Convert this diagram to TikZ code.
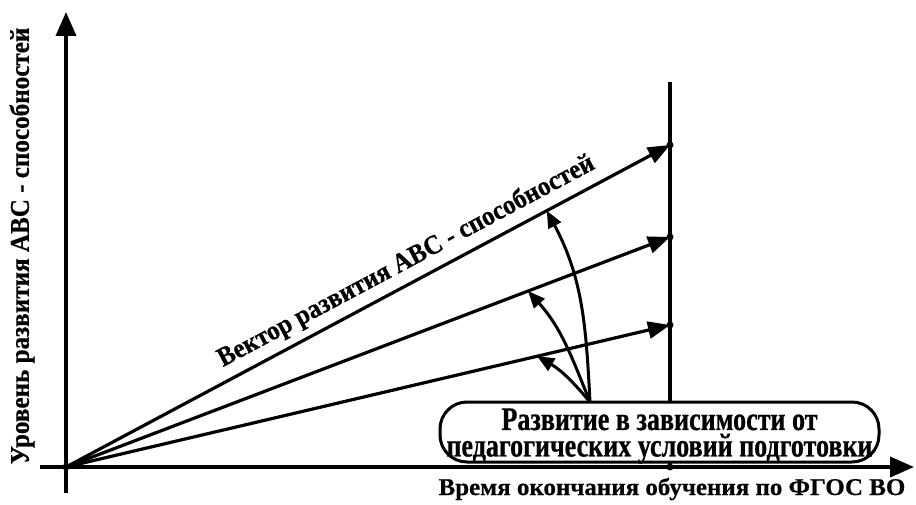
\documentclass[tikz,border=0pt]{standalone}
\usepackage{fontspec}
\setmainfont{Liberation Serif}
\newfontfamily\boxfont{Liberation Serif Bold}[FakeStretch=0.79,FakeBold=0.6]
\newfontfamily\ylabfont{Liberation Serif Bold}[FakeStretch=0.93,FakeBold=0.6]
\newfontfamily\xlabfont{Liberation Serif Bold}[FakeStretch=1.04,FakeBold=0.6]
\usetikzlibrary{arrows.meta,calc}
\begin{document}
\begin{tikzpicture}[x=1pt,y=-1pt,
  axis/.style={line width=3.6pt,-{Triangle[length=24pt,width=20pt]}},
  vec/.style={line width=3.2pt,-{Triangle[length=22pt,width=17pt]}},
  curvarrow/.style={line width=3pt,-{Triangle[length=17pt,width=14pt]}},
  lbl/.style={inner sep=0pt},
  dot/.style={circle,fill=black,inner sep=0pt,minimum size=7pt},
  rbox/.style={draw,line width=3pt,rounded corners=27pt,fill=white,minimum width=439pt,minimum height=60pt,inner sep=0pt},
  boxtext/.style={align=center,font=\boxfont\fontsize{33}{26.5}\selectfont,inner sep=0pt}]
\useasboundingbox (0,0) rectangle (916,505);
% axes
\coordinate (O) at (66,467);
\coordinate (ybot) at (66,493);
\coordinate (ytop) at (66,12);
\coordinate (xleft) at (40,467);
\coordinate (xright) at (914,467);
\draw[axis] (ybot) -- (ytop);
\draw[axis] (xleft) -- (xright);
% vertical line
\coordinate (vtop) at (670,82);
\coordinate (vbot) at (670,467);
\draw[line width=3.2pt] (vtop) -- (vbot);
% vector end points
\coordinate (t1) at (670,145);
\coordinate (t2) at (670,237);
\coordinate (t3) at (670,325);
\draw[vec] (O) -- (t1) node[lbl,font=\ylabfont\fontsize{27}{27}\selectfont,pos=0.58,sloped,above=7pt] {Вектор развития ABC - способностей};
\draw[vec] (O) -- (t2);
\draw[vec] (O) -- (t3);
% box
\node[rbox] (box) at (659.5,432) {};
\node[boxtext] (boxtxt) at (659.5,436) {Развитие в зависимости от\\педагогических условий подготовки};
% dots
\node[dot] (d0) at (O) {};
\node[dot] (d1) at (t1) {};
\node[dot] (d2) at (t2) {};
\node[dot] (d3) at (t3) {};
\node[dot] (d4) at (vbot) {};
% curved arrows
\coordinate (src) at (590,402);
\coordinate (c1) at ($(O)!0.796!(t1)$);
\coordinate (c2) at ($(O)!0.765!(t2)$);
\coordinate (c3) at ($(O)!0.78!(t3)$);
\draw[curvarrow] (src) to[out=93,in=-62] (c1);
\draw[curvarrow] (src) to[out=112,in=-48] (c2);
\draw[curvarrow] (src) to[out=130,in=-30] (c3);
% axis labels
\node[lbl,rotate=90,font=\ylabfont\fontsize{27}{27}\selectfont] (ylab) at (22,246) {Уровень развития ABC - способностей};
\node[lbl,font=\xlabfont\fontsize{24}{24}\selectfont] (xlab) at (672,489) {Время окончания обучения по ФГОС ВО};
\end{tikzpicture}
\end{document}
